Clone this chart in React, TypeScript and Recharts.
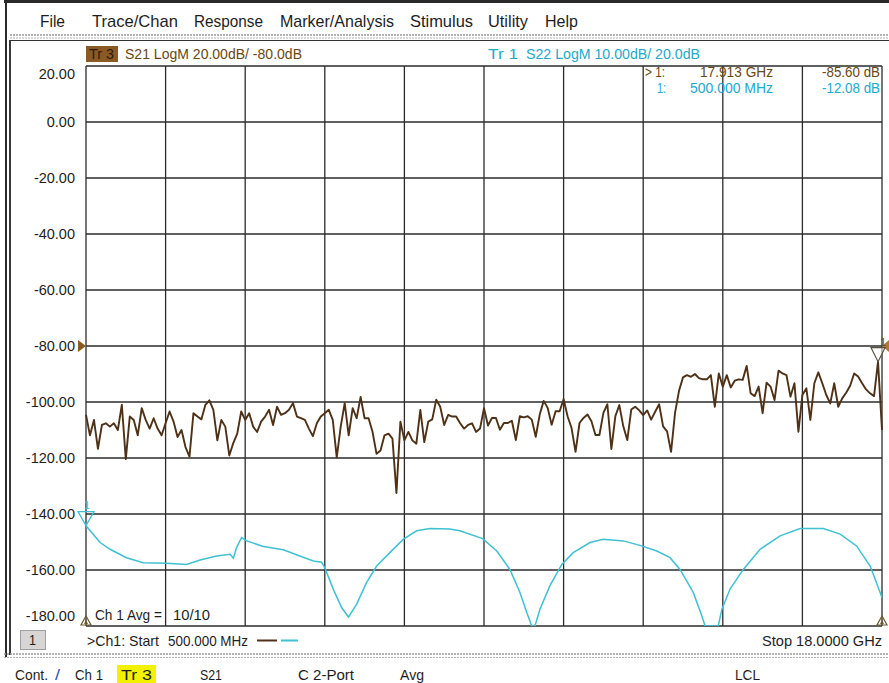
import React from "react";
import { LineChart, Line, XAxis, YAxis, CartesianGrid, ReferenceDot } from "recharts";

const startGHz = 0.5;
const stopGHz = 18;

// vertical divisions of the sweep (10 divisions)
const gridFreqs = [0.5, 2.25, 4.0, 5.75, 7.5, 9.25, 11.0, 12.75, 14.5, 16.25, 18.0];
// left scale = Tr 3 (S21, 20 dB/div, ref -80 dB)
const dbTicks = [20, 0, -20, -40, -60, -80, -100, -120, -140, -160, -180];
// Tr 1 (S22) is 10 dB/div with ref 20 dB at the same position
const s22Domain = [-30, 70];

// Tr 3 S21 LogM, 201 sweep points
const s21Db = [
  -104.6, -111.9, -106.4, -116.7, -108.2, -107.6, -108.8, -107.6, -110, -101,
  -120.4, -105.2, -106.4, -111.9, -102.2, -106.4, -109.5, -105.8, -109.5, -111.9,
  -107.6, -103.4, -107, -112.5, -110, -116.1, -119.5, -104, -105.2, -106.2,
  -101, -99.4, -102.8, -113.7, -106.4, -108.8, -119.1, -114.7, -111.3, -103.4,
  -106.4, -104, -108.8, -110.7, -107, -105.2, -102.8, -108.2, -101.7, -104.6,
  -104, -102.8, -100.4, -105.2, -105.8, -106.4, -109.5, -112.2, -107.6, -105.2,
  -104, -102.8, -106.4, -119.8, -108.8, -100.4, -111.9, -102.2, -105.8, -98.2,
  -105.8, -105.8, -110.7, -118.5, -117.3, -111.9, -111.3, -113.1, -132.5, -107,
  -113.7, -110.7, -113.7, -114.9, -102.8, -114.3, -107, -106.2, -99.2, -101.7,
  -108.2, -104.6, -105.2, -105.2, -107.6, -109.5, -108.2, -107.6, -110.7, -109.5,
  -102.2,
  -108.4, -105.7, -105.7, -109.9, -107.5, -107.5, -106.7, -113.6, -105.1, -105.5,
  -105.1, -106.3, -112.4, -104.5, -99.6, -102.1, -108.1, -103.3, -103.3, -99,
  -105.1, -109.3, -117.8, -107.5, -105.7, -104.5, -106.9, -111.8, -111.8, -103.9,
  -100.8, -116.8, -105.1, -101.1, -108.7, -113.6, -102.7, -101.7, -103, -104.7,
  -103, -106.3, -103.5, -100.8, -108.7, -110.5, -117.8, -103.9, -96, -91.2,
  -90.4, -91, -90, -91.5, -91.9, -91.9, -90.4, -101.7, -89.8, -94.5,
  -90.4, -94.8, -92.4, -91.9, -92.1, -87.1, -96.9, -97.9, -94.5, -104,
  -93.1, -94.5, -99.3, -88.8, -89.8, -90.4, -98.1, -93.3, -110.6, -97.5,
  -95.1, -106.4, -93.3, -89.4, -93.3, -97.5, -100.5, -93.3, -101.7, -98.7,
  -96.7, -94.2, -89.8, -90.9, -93.3, -95.5, -96.9, -97.9, -85.6, -110,
];

// Tr 1 S22 LogM
const s22Freq = [
  0.5, 0.81, 1.03, 1.39, 1.76, 2.27, 2.71, 3.01, 3.37, 3.67,
  3.74, 3.81, 3.92, 4.03, 4.4, 4.84, 5.2, 5.5, 5.68, 5.75,
  5.94, 6.12, 6.27, 6.45, 6.67, 6.89, 7.18, 7.48, 7.77, 8.06,
  8.5, 8.72, 9.22, 9.53, 9.82, 10.04, 10.19, 10.3, 10.37, 10.48,
  10.7, 10.96, 11.21, 11.58, 11.87, 12.31, 12.68, 13.05, 13.34, 13.56,
  13.85, 14.04, 14.11, 14.4, 14.48, 14.66, 14.95, 15.32, 15.76, 16.2,
  16.71, 17.08, 17.44, 17.74, 18.0,
];
const s22Db = [
  -12.08, -15.1, -16.3, -17.8, -18.7, -18.8, -19.0, -18.2, -17.5, -17.2,
  -17.9, -16.0, -14.2, -14.8, -15.8, -16.4, -17.5, -18.4, -18.6, -19.6,
  -23.5, -26.7, -28.4, -26.1, -22.2, -19.3, -16.9, -14.5, -13.0, -12.6,
  -12.7, -13.0, -14.4, -16.6, -19.9, -24.0, -27.6, -30, -30, -27.0,
  -22.8, -19.0, -16.9, -15.1, -14.5, -14.8, -15.6, -16.6, -17.8, -19.9,
  -24.0, -28.2, -30, -30, -27.0, -23.4, -19.9, -16.3, -13.9, -12.6,
  -12.6, -13.6, -15.7, -19.3, -24.9,
];

const marker1 = { s21Freq: 17.913, s21Db: -85.6, s22Freq: 0.5, s22Db: -12.08 };
const refLevel = -80;

const step = (stopGHz - startGHz) / (s21Db.length - 1);
const s21Rows = s21Db.map((v, i) => ({ f: startGHz + i * step, v }));
const s22Rows = s22Freq.map((f, i) => ({ f, v: s22Db[i] }));

const BROWN = "#4e3116";
const BROWN_TXT = "#6a4812";
const CYAN = "#3fc1d3";
const CYAN_TXT = "#22aacb";
const INK = "#1e1e1e";
const uiFont = '"Liberation Sans Narrow", "Arial Narrow", "Liberation Sans", Arial, sans-serif';
const numFont = '"Liberation Sans", Arial, sans-serif';

function DbTick(props: any) {
  const { x, y, payload } = props;
  const v = payload.value;
  let shift = 5;
  if (v === dbTicks[0]) shift = 13;
  if (v === dbTicks[dbTicks.length - 1]) shift = -5;
  return (
    <text x={x} y={y + shift} textAnchor="end" fontSize={14.5} fill={INK} fontFamily={numFont}>
      {v.toFixed(2)}
    </text>
  );
}

const refArrowLeft = (p: any) => (
  <polygon points={`${p.cx - 8},${p.cy - 6} ${p.cx},${p.cy} ${p.cx - 8},${p.cy + 6}`} fill="#8a5a25" />
);
const refArrowRight = (p: any) => (
  <polygon points={`${p.cx + 7},${p.cy - 6} ${p.cx},${p.cy} ${p.cx + 7},${p.cy + 6}`} fill="#b07a30" />
);
const brownMarker = (p: any) => (
  <g>
    <polygon
      points={`${p.cx - 7},${p.cy - 14} ${p.cx + 7},${p.cy - 14} ${p.cx},${p.cy}`}
      fill="rgba(255,255,255,0.5)"
      stroke="#5b5040"
      strokeWidth={1.2}
    />
    <text x={p.cx + 2} y={p.cy - 16} fontSize={11} fill="#5b5040" fontFamily={numFont}>1</text>
  </g>
);
const cyanMarker = (p: any) => (
  <g>
    <polygon
      points={`${p.cx - 8},${p.cy - 14} ${p.cx + 8},${p.cy - 14} ${p.cx},${p.cy}`}
      fill="none"
      stroke={CYAN}
      strokeWidth={1.3}
    />
    <text x={p.cx - 2} y={p.cy - 17} fontSize={11} fill={CYAN} fontFamily={numFont}>1</text>
  </g>
);
const stimTriangle = (p: any) => (
  <g>
    <polygon
      points={`${p.cx - 5},${p.cy - 1} ${p.cx + 5},${p.cy - 1} ${p.cx},${p.cy - 10}`}
      fill="none"
      stroke="#6a5a30"
      strokeWidth={1.2}
    />
    <polygon points={`${p.cx - 2},${p.cy - 2} ${p.cx + 2},${p.cy - 2} ${p.cx},${p.cy - 6}`} fill="#6a5a30" />
  </g>
);

function T({ x, y, w, size = 15, fill = INK, family = uiFont, children }: any) {
  return (
    <text
      x={x}
      y={y}
      textLength={w}
      lengthAdjust="spacingAndGlyphs"
      fontSize={size}
      fill={fill}
      fontFamily={family}
    >
      {children}
    </text>
  );
}

function Chrome() {
  return (
    <svg
      width={889}
      height={683}
      style={{ position: "absolute", left: 0, top: 0, pointerEvents: "none" }}
    >
      {/* window frame */}
      <rect x={4} y={0} width={885} height={3} fill="#2a2a2a" />
      <rect x={5} y={0} width={2} height={657} fill="#2a2a2a" />
      <rect x={9} y={40} width={2} height={615} fill="#3a3a3a" />
      <line x1={10} y1={35} x2={889} y2={35} stroke="#9a9a9a" strokeWidth={1.5} strokeDasharray="2 1" />
      <line x1={10} y1={38} x2={889} y2={38} stroke="#b0b0b0" strokeWidth={1} strokeDasharray="2 1" />
      <line x1={10} y1={40.5} x2={889} y2={40.5} stroke="#333" strokeWidth={1.2} />
      <line x1={4} y1={654} x2={889} y2={654} stroke="#9a9a9a" strokeWidth={1.5} strokeDasharray="2 1" />
      <line x1={4} y1={657.5} x2={889} y2={657.5} stroke="#b0b0b0" strokeWidth={1} strokeDasharray="2 1" />

      {/* menu bar */}
      <T x={40} y={27} w={25} size={17}>File</T>
      <T x={92} y={27} w={86} size={17}>Trace/Chan</T>
      <T x={194} y={27} w={69} size={17}>Response</T>
      <T x={280} y={27} w={114} size={17}>Marker/Analysis</T>
      <T x={410} y={27} w={63} size={17}>Stimulus</T>
      <T x={488} y={27} w={40} size={17}>Utility</T>
      <T x={545} y={27} w={33} size={17}>Help</T>

      {/* trace titles */}
      <rect x={86} y={46} width={32} height={16} fill="#8a5a25" />
      <T x={89} y={59} w={25} size={14} fill="#2e1c08">Tr 3</T>
      <T x={125} y={59} w={177} size={14.5} fill={BROWN_TXT}>S21 LogM 20.00dB/ -80.0dB</T>
      <T x={488} y={59} w={30} size={14.5} fill={CYAN_TXT}>Tr 1</T>
      <T x={526} y={59} w={174} size={14.5} fill={CYAN_TXT}>S22 LogM 10.00dB/ 20.0dB</T>

      {/* marker readout */}
      <T x={645} y={77} w={20} size={14.5} fill={BROWN_TXT} family={numFont}>&gt; 1:</T>
      <T x={700} y={77} w={73} size={14.5} fill={BROWN_TXT} family={numFont}>17.913 GHz</T>
      <T x={822} y={77} w={58} size={14.5} fill={BROWN_TXT} family={numFont}>-85.60 dB</T>
      <T x={657} y={93} w={9} size={14.5} fill={CYAN_TXT} family={numFont}>1:</T>
      <T x={690} y={93} w={83} size={14.5} fill={CYAN_TXT} family={numFont}>500.000 MHz</T>
      <T x={822} y={93} w={58} size={14.5} fill={CYAN_TXT} family={numFont}>-12.08 dB</T>

      {/* averaging */}
      <T x={95} y={620} w={67} size={15}>Ch 1 Avg =</T>
      <T x={173} y={620} w={37} size={15}>10/10</T>

      {/* channel bar */}
      <rect x={20.5} y={630.5} width={25} height={19} fill="#d6d6d6" stroke="#a0a0a0" />
      <T x={29} y={645} w={7} size={14}>1</T>
      <T x={87} y={646} w={72} size={15}>&gt;Ch1: Start</T>
      <T x={168} y={646} w={80} size={15}>500.000 MHz</T>
      <line x1={257} y1={640.5} x2={277} y2={640.5} stroke={BROWN} strokeWidth={2} />
      <line x1={281} y1={640.5} x2={298} y2={640.5} stroke={CYAN} strokeWidth={2} />
      <T x={762} y={646} w={120} size={15}>Stop 18.0000 GHz</T>

      {/* status bar */}
      <rect x={117} y={665} width={39} height={18} fill="#f2f200" />
      <T x={15} y={680} w={33} size={15}>Cont.</T>
      <T x={55} y={680} w={5} size={15} fill="#2a4fc0">/</T>
      <T x={75} y={680} w={28} size={15}>Ch 1</T>
      <T x={121} y={680} w={31} size={15}>Tr 3</T>
      <T x={200} y={680} w={22} size={15}>S21</T>
      <T x={298} y={680} w={56} size={15}>C 2-Port</T>
      <T x={400} y={680} w={24} size={15}>Avg</T>
      <T x={735} y={680} w={25} size={15}>LCL</T>
    </svg>
  );
}

export default function App() {
  return (
    <div
      style={{
        position: "absolute",
        left: 0,
        top: 0,
        width: 889,
        height: 683,
        background: "#ffffff",
        overflow: "hidden",
      }}
    >
      <div style={{ position: "absolute", left: 0, top: 0 }}>
        <LineChart
          width={889}
          height={683}
          data={s21Rows}
          margin={{ top: 66, right: 7, bottom: 57, left: 16 }}
        >
          <CartesianGrid yAxisId="s21" stroke="#2b2b2b" strokeWidth={1.3} />
          <XAxis dataKey="f" type="number" domain={[startGHz, stopGHz]} ticks={gridFreqs} hide />
          <YAxis
            yAxisId="s21"
            domain={[dbTicks[dbTicks.length - 1], dbTicks[0]]}
            ticks={dbTicks}
            interval={0}
            width={70}
            axisLine={false}
            tickLine={false}
            tickSize={0}
            tickMargin={11}
            tick={<DbTick />}
          />
          <YAxis yAxisId="s22" orientation="right" domain={s22Domain} hide allowDataOverflow />
          <Line
            yAxisId="s22"
            data={s22Rows}
            dataKey="v"
            type="linear"
            stroke={CYAN}
            strokeWidth={1.5}
            dot={false}
            isAnimationActive={false}
          />
          <Line
            yAxisId="s21"
            dataKey="v"
            type="linear"
            stroke={BROWN}
            strokeWidth={1.9}
            strokeLinejoin="round"
            dot={false}
            isAnimationActive={false}
          />
          <ReferenceDot yAxisId="s21" x={startGHz} y={refLevel} shape={refArrowLeft} />
          <ReferenceDot yAxisId="s21" x={stopGHz} y={refLevel} shape={refArrowRight} />
          <ReferenceDot yAxisId="s21" x={marker1.s21Freq} y={marker1.s21Db} shape={brownMarker} />
          <ReferenceDot yAxisId="s22" x={marker1.s22Freq} y={marker1.s22Db} shape={cyanMarker} />
          <ReferenceDot yAxisId="s21" x={startGHz} y={dbTicks[dbTicks.length - 1]} shape={stimTriangle} />
          <ReferenceDot yAxisId="s21" x={stopGHz} y={dbTicks[dbTicks.length - 1]} shape={stimTriangle} />
        </LineChart>
      </div>
      <Chrome />
    </div>
  );
}
